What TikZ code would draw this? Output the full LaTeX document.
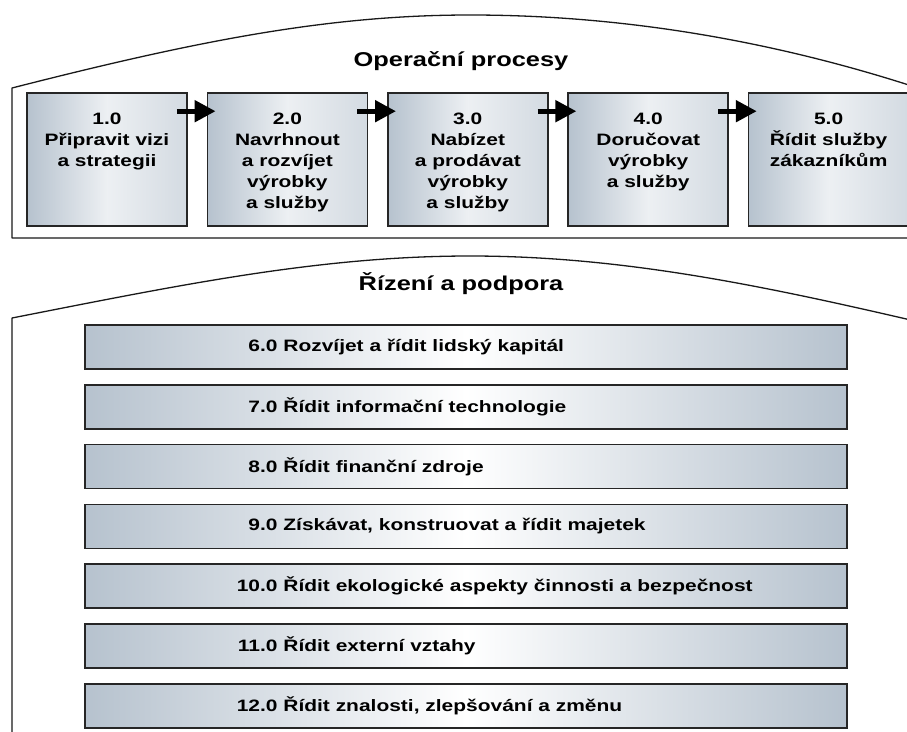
\documentclass[tikz,border=0pt]{standalone}
\usepackage{fontspec}
\setmainfont{Liberation Sans}[FakeStretch=1.27]
\usepackage{xcolor}
\usepackage{tikz}
\usetikzlibrary{arrows.meta,positioning}
\definecolor{steel}{RGB}{182,194,206}

\begin{document}
\begin{tikzpicture}[
  x=1pt, y=-1pt,
  node distance=14.2pt and 18.8pt,
  every node/.style={font=\bfseries},
  frame/.style={draw=black!90, line width=1.3pt, line join=round},
  title/.style={anchor=base, font=\bfseries\fontsize{20}{24}\selectfont},
  procbox/.style={rectangle, draw=black!85, line width=1.6pt,
                  minimum width=160pt, minimum height=133pt, inner sep=0pt,
                  left color=steel, right color=steel!60, middle color=steel!25,
                  label={[boxtext]north:{#1}}},
  boxtext/.style={anchor=north, yshift=-21pt, align=center, inner sep=0pt,
                  font=\bfseries\fontsize{16.5}{21}\selectfont},
  bar/.style 2 args={rectangle, draw=black!85, line width=1.6pt,
                  minimum width=762pt, minimum height=44pt, inner sep=0pt,
                  left color=steel, right color=steel, middle color=white,
                  label={[bartext]west:{\llap{#1\ }#2}}},
  bartext/.style={anchor=west, xshift=199pt, inner sep=0pt,
                  font=\bfseries\fontsize{16.5}{20}\selectfont},
  arr/.style={-{Triangle[length=21pt, width=21pt]}, line width=5pt},
]
\useasboundingbox (0,0) rectangle (907,731);

% operational processes
\draw[frame] (915,238) -- (12,238) -- (12,88)
  .. controls (200,40) and (330,15) .. (470,15)
  .. controls (620,15) and (770,40) .. (915,87) -- cycle;
\node[title] (ops) at (461,66) {Operační procesy};

\node[procbox={1.0\\Připravit vizi\\a strategii}] (p1) at (107,159.5) {};
\node[procbox={2.0\\Navrhnout\\a rozvíjet\\výrobky\\a služby}, right=of p1] (p2) {};
\node[procbox={3.0\\Nabízet\\a prodávat\\výrobky\\a služby}, right=of p2] (p3) {};
\node[procbox={4.0\\Doručovat\\výrobky\\a služby}, right=of p3] (p4) {};
\node[procbox={5.0\\Řídit služby\\zákazníkům}, right=of p4] (p5) {};

\draw[arr] ([shift={(-11pt,-19pt)}]p1.north east) -- ([shift={(9pt,-19pt)}]p2.north west);
\draw[arr] ([shift={(-11pt,-19pt)}]p2.north east) -- ([shift={(9pt,-19pt)}]p3.north west);
\draw[arr] ([shift={(-11pt,-19pt)}]p3.north east) -- ([shift={(9pt,-19pt)}]p4.north west);
\draw[arr] ([shift={(-11pt,-19pt)}]p4.north east) -- ([shift={(9pt,-19pt)}]p5.north west);

% management and support
\draw[frame] (12,740) -- (12,318)
  .. controls (180,285) and (320,256) .. (470,256)
  .. controls (620,256) and (760,285) .. (915,321) -- (915,740);
\node[title] (mgmt) at (461,290) {Řízení a podpora};

\node[bar={6.0}{Rozvíjet a řídit lidský kapitál}] (s6) at (466,347) {};
\node[bar={7.0}{Řídit informační technologie}, below=of s6] (s7) {};
\node[bar={8.0}{Řídit finanční zdroje}, below=of s7] (s8) {};
\node[bar={9.0}{Získávat, konstruovat a řídit majetek}, below=of s8] (s9) {};
\node[bar={10.0}{Řídit ekologické aspekty činnosti a bezpečnost}, below=of s9] (s10) {};
\node[bar={11.0}{Řídit externí vztahy}, below=of s10] (s11) {};
\node[bar={12.0}{Řídit znalosti, zlepšování a změnu}, below=of s11] (s12) {};
\end{tikzpicture}
\end{document}
